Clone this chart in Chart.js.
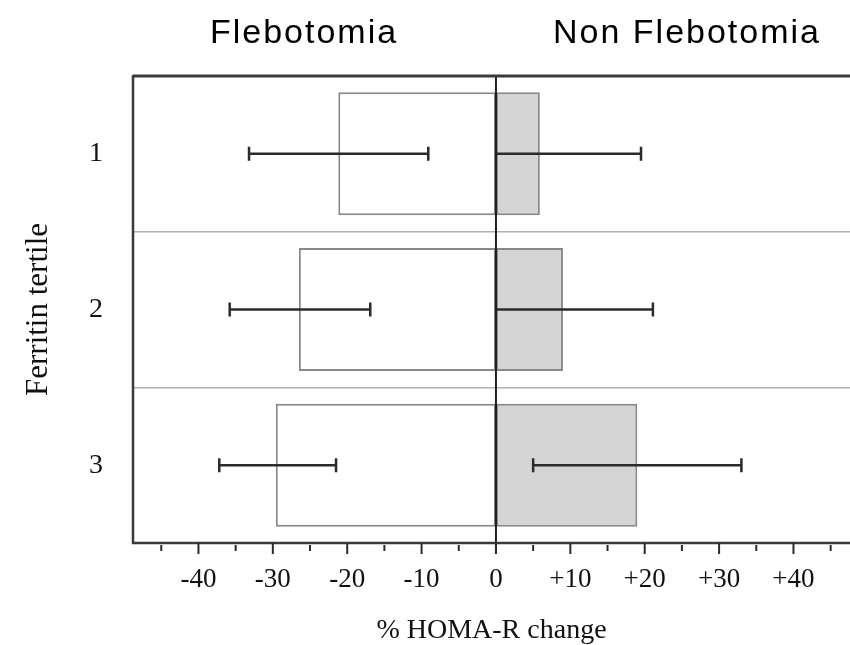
<!DOCTYPE html>
<html>
<head>
<meta charset="utf-8">
<script src="https://cdn.jsdelivr.net/npm/chart.js@4.4.1/dist/chart.umd.min.js"></script>
<style>
  html, body { margin: 0; padding: 0; background: #fff; }
  #wrap { width: 850px; height: 645px; position: relative; }
</style>
</head>
<body>
<div id="wrap"><canvas id="chart"></canvas></div>
<script>
// tertiles of ferritin
const tertiles = ['1', '2', '3'];

// mean % change of HOMA-R
const flebotomia = [-21.2, -26.5, -29.6];
const nonFlebotomia = [5.9, 9.0, 19.0];

// error bars (low, high)
const flebLow = [-33.2, -35.8, -37.2];
const flebHigh = [-9.1, -16.9, -21.5];
const nonLow = [0, 0, 5.0];
const nonHigh = [19.5, 21.1, 33.0];

// x axis ticks
const majorTicks = [-40, -30, -20, -10, 0, 10, 20, 30, 40];
const minorTicks = [-45, -35, -25, -15, -5, 5, 15, 25, 35, 45];

const serif = '"Liberation Serif", "DejaVu Serif", serif';
const sans = '"Liberation Sans", Arial, sans-serif';

// frame, zero line, tick marks, error bars and the two headings
const extras = {
    id: 'extras',
    afterDatasetsDraw(chart) {
        const { ctx, chartArea, scales } = chart;
        const x = scales.x, y = scales.y;
        ctx.save();

        // error bars
        ctx.strokeStyle = '#2b2b2b';
        ctx.lineWidth = 2.5;
        const drawErr = (lo, hi, i, capLo) => {
            const yc = y.getPixelForValue(i);
            const x1 = x.getPixelForValue(lo), x2 = x.getPixelForValue(hi);
            ctx.beginPath();
            ctx.moveTo(x1, yc); ctx.lineTo(x2, yc);
            if (capLo) { ctx.moveTo(x1, yc - 7); ctx.lineTo(x1, yc + 7); }
            ctx.moveTo(x2, yc - 7); ctx.lineTo(x2, yc + 7);
            ctx.stroke();
        };
        tertiles.forEach((t, i) => {
            drawErr(flebLow[i], flebHigh[i], i, true);
            drawErr(nonLow[i], nonHigh[i], i, nonLow[i] !== 0);
        });

        // zero line
        const x0 = x.getPixelForValue(0);
        ctx.strokeStyle = '#1e1e1e';
        ctx.lineWidth = 2;
        ctx.beginPath();
        ctx.moveTo(x0, chartArea.top);
        ctx.lineTo(x0, chartArea.bottom + 11);
        ctx.stroke();

        // frame: top, left, bottom
        ctx.strokeStyle = '#3a3a3a';
        ctx.lineWidth = 3;
        ctx.beginPath();
        ctx.moveTo(chartArea.left, chartArea.top);
        ctx.lineTo(chartArea.right + 2, chartArea.top);
        ctx.stroke();
        ctx.lineWidth = 2.5;
        ctx.beginPath();
        ctx.moveTo(chartArea.left, chartArea.top - 1);
        ctx.lineTo(chartArea.left, chartArea.bottom);
        ctx.lineTo(chartArea.right + 2, chartArea.bottom);
        ctx.stroke();

        // tick marks
        ctx.strokeStyle = '#2b2b2b';
        ctx.lineWidth = 2;
        ctx.beginPath();
        majorTicks.forEach(v => {
            const px = x.getPixelForValue(v);
            ctx.moveTo(px, chartArea.bottom); ctx.lineTo(px, chartArea.bottom + 11);
        });
        minorTicks.forEach(v => {
            const px = x.getPixelForValue(v);
            ctx.moveTo(px, chartArea.bottom + 2); ctx.lineTo(px, chartArea.bottom + 8);
        });
        ctx.stroke();

        // headings
        ctx.fillStyle = '#000';
        ctx.font = '34px ' + sans;
        ctx.letterSpacing = '2px';
        ctx.textAlign = 'center';
        ctx.textBaseline = 'middle';
        ctx.fillText('Flebotomia', 304, 34);
        ctx.fillText('Non Flebotomia', 687, 34);
        ctx.restore();
    }
};

new Chart(document.getElementById('chart'), {
    type: 'bar',
    data: {
        labels: tertiles,
        datasets: [
            {
                label: 'Flebotomia',
                data: flebotomia,
                backgroundColor: '#ffffff',
                borderColor: '#888888',
                borderWidth: 2,
                borderSkipped: false
            },
            {
                label: 'Non Flebotomia',
                data: nonFlebotomia,
                backgroundColor: '#d4d4d4',
                borderColor: '#888888',
                borderWidth: 2,
                borderSkipped: false
            }
        ]
    },
    options: {
        indexAxis: 'y',
        responsive: true,
        maintainAspectRatio: false,
        animation: false,
        barPercentage: 0.79,
        categoryPercentage: 1,
        layout: { padding: { top: 76, right: 0, bottom: 0, left: 0 } },
        plugins: {
            legend: { display: false },
            tooltip: { enabled: false }
        },
        scales: {
            x: {
                stacked: true,
                min: -48.8,
                max: 47.6,
                afterBuildTicks: s => { s.ticks = majorTicks.map(v => ({ value: v })); },
                afterFit: s => { s.height = 102; },
                grid: { display: false },
                border: { display: false },
                ticks: {
                    color: '#111',
                    font: { family: serif, size: 27 },
                    padding: 13,
                    maxRotation: 0,
                    autoSkip: false,
                    callback: v => (v > 0 ? '+' + v : String(v))
                },
                title: {
                    display: true,
                    text: '% HOMA-R change',
                    color: '#111',
                    font: { family: serif, size: 28, lineHeight: 1 },
                    padding: { top: 0, bottom: 0 }
                }
            },
            y: {
                stacked: true,
                afterFit: s => { s.width = 133; },
                grid: {
                    offset: true,
                    color: '#b0b0b0',
                    lineWidth: 1.5,
                    drawTicks: false
                },
                border: { display: false },
                ticks: {
                    color: '#111',
                    font: { family: serif, size: 28 },
                    padding: 30
                },
                title: {
                    display: true,
                    text: 'Ferritin tertile',
                    color: '#111',
                    font: { family: serif, size: 31 },
                    padding: { top: 20, bottom: 0 }
                }
            }
        }
    },
    plugins: [extras]
});
</script>
</body>
</html>
